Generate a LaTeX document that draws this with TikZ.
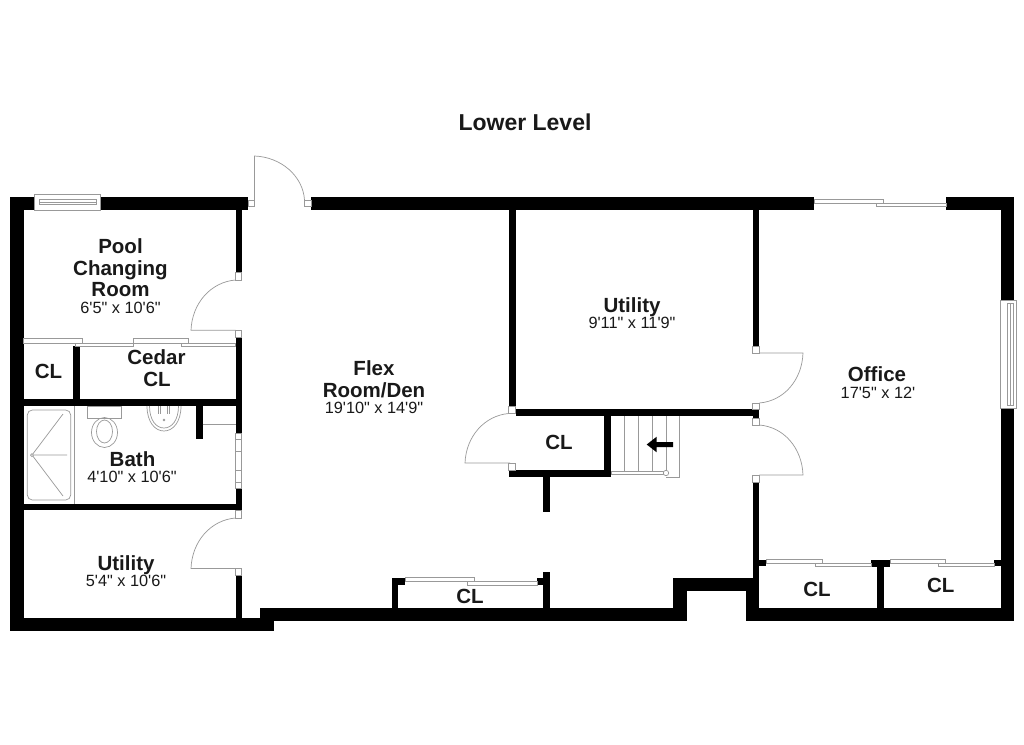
\documentclass[tikz,border=0pt]{standalone}
\usepackage{fontspec}
\setmainfont{Liberation Sans}[Ligatures=TeXOff]
\definecolor{fine}{gray}{0.6}
\tikzset{
  wall/.style={fill=black,draw=none},
  fineline/.style={draw=fine,line width=0.7pt},
  jamb/.style={draw=fine,line width=0.7pt,fill=white},
  panel/.style={draw=fine,line width=0.7pt,fill=white},
  roomname/.style={font=\bfseries\fontsize{20.5}{22}\selectfont,anchor=base,inner sep=0pt,text=black!90},
  roomdim/.style={font=\fontsize{16.3}{18}\selectfont,anchor=base,inner sep=0pt,text=black!90},
  title/.style={font=\bfseries\fontsize{23}{25}\selectfont,anchor=base,inner sep=0pt,text=black!90}
}
\newcommand{\W}[4]{\fill[wall] (#1,#2) rectangle (#3,#4);}
\newcommand{\J}[4]{\draw[jamb] (#1,#2) rectangle (#3,#4);}
\newcommand{\Pn}[4]{\draw[panel] (#1,#2) rectangle (#3,#4);}
\begin{document}
\begin{tikzpicture}[x=1pt,y=-1pt]
\useasboundingbox (0,0) rectangle (1024,744);
\fill[white] (0,0) rectangle (1024,744);
% outer walls
\W{10}{197}{34}{210}
\W{100}{197}{248}{210}
\W{10}{197}{23.5}{631.3}
\W{10}{618.3}{273.7}{631.3}
\W{260}{607.5}{686.6}{620.8}
\W{673.3}{578.3}{686.6}{621}
\W{673.3}{578.3}{759.3}{591.3}
\W{746}{578.3}{759.3}{621}
\W{746}{607.7}{1014}{621}
\W{311}{197}{814}{210}
\W{945.7}{197}{1014}{210}
\W{1000.7}{197}{1014}{300}
\W{1000.7}{408}{1014}{621}
% west rooms, east partition
\W{235.5}{210}{241.5}{272.7}
\W{235.5}{337}{241.5}{433}
\W{235.5}{488}{241.5}{510.3}
\W{235.5}{575}{241.5}{620}
\W{23.5}{399.3}{241.5}{406}
\W{23.5}{503.7}{241.5}{510.3}
\W{73}{345.7}{79.7}{400}
\W{196}{406}{202.7}{439}
% utility and closet
\W{508.7}{210}{515.5}{406.7}
\W{516}{409.3}{759.3}{416.3}
\W{752.7}{210}{759.3}{346}
\W{752.7}{409}{759.3}{418}
\W{752.7}{482}{759.3}{607.7}
\W{508.7}{470}{611}{476.7}
\W{543.3}{476}{550}{512}
\W{604.3}{416}{610.5}{476}
% office closets
\W{759.3}{560}{766}{566.4}
\W{870.7}{560}{890.3}{566.6}
\W{877}{566}{883.7}{608}
\W{994}{560}{1001}{566.4}
% flex closet
\W{391.7}{578.3}{398.3}{608}
\W{391.7}{578.3}{405}{584.7}
\W{543.3}{571.7}{550}{608}
\W{536.7}{578.3}{543.3}{584.7}
% front door
\J{248}{200}{254.5}{206.5}
\J{304.5}{200}{311}{206.5}
\draw[fineline] (254.5,200) -- (254.5,156) .. controls (281,157) and (303,176) .. (304.5,200);
% changing room door
\J{235.5}{272.7}{241.5}{280}
\J{235.5}{330.3}{241.5}{337}
\draw[fineline] (235.5,330.3) -- (191,330.3) .. controls (192,303) and (211,282) .. (235.5,280);
% utility west door
\J{235.5}{510.3}{241.5}{518}
\J{235.5}{568.5}{241.5}{575}
\draw[fineline] (235.5,568.5) -- (191,568.5) .. controls (192,541) and (211,520) .. (235.5,518);
% closet door
\J{508.7}{406.7}{515.5}{413.5}
\J{508.7}{463}{515.5}{470}
\draw[fineline] (510,463) -- (465,463) .. controls (466,436) and (485,415.5) .. (508.7,413.5);
% office doors
\J{752.7}{346}{759.3}{353.5}
\J{752.7}{403}{759.3}{409.3}
\draw[fineline] (759.3,353) -- (803,353) .. controls (802,380) and (784,401) .. (759.3,403);
\J{752.7}{418}{759.3}{425}
\J{752.7}{475}{759.3}{482}
\draw[fineline] (759.3,475) -- (803,475) .. controls (802,448) and (784,427) .. (759.3,425);
% north windows
\draw[panel] (34,194.5) rectangle (100,210);
\draw[panel] (39,199.5) rectangle (96,204);
\draw[fineline] (39,202) -- (96,202);
% east window
\draw[panel] (1000.7,300) rectangle (1016.5,408);
\draw[panel] (1007,303) rectangle (1013,405);
\draw[fineline] (1010,303) -- (1010,405);
% glider
\Pn{814}{199.3}{883}{203.3}
\Pn{876}{203.3}{946}{206.6}
% bifolds
\Pn{23.5}{338.7}{82}{343}
\Pn{75.5}{343}{133}{346.5}
\Pn{133}{338.7}{188}{343}
\Pn{181}{343}{235.5}{346.5}
\Pn{405}{577.7}{474.5}{581.3}
\Pn{467.5}{581.3}{537}{585}
\Pn{766}{559.3}{822}{563}
\Pn{815}{563}{871}{566.5}
\Pn{890.3}{559.3}{945.7}{563}
\Pn{938.7}{563}{994}{566.5}
% bath window
\draw[panel] (235.5,433) rectangle (241.5,488);
\draw[fineline] (235.5,439) -- (241.5,439) (235.5,451) -- (241.5,451) (235.5,470) -- (241.5,470) (235.5,482) -- (241.5,482);
% bath fixtures
\draw[fineline] (74.3,406) -- (74.3,503.7);
\draw[fineline,rounded corners=5pt] (27.3,410) rectangle (70.7,500);
\draw[fineline] (32,455) circle[radius=1.5];
\draw[fineline] (33,453.7) -- (63,414) (33.5,455) -- (67,455) (33,456.3) -- (63,496);
\draw[fineline] (87.7,406) rectangle (121.7,418);
\draw[fineline] (104.5,432.5) ellipse[x radius=13,y radius=15];
\draw[fineline] (104.5,431.5) ellipse[x radius=8,y radius=11.5];
\draw[fineline] (147,406) .. controls (147,422) and (155,431) .. (164,431) .. controls (173,431) and (181,422) .. (181,406);
\draw[fineline] (149.5,406) .. controls (149.5,420) and (156,428) .. (164,428) .. controls (172,428) and (178.5,420) .. (178.5,406);
\draw[fineline] (158,406) -- (158,414) (160,406) -- (160,414) (167,406) -- (167,414) (169,406) -- (169,414);
\draw[fineline] (164,420) circle[radius=0.8];
\draw[fineline] (202.7,424.7) -- (235.5,424.7);
% stairs
\foreach \sx in {624,638,652,666}{\draw[fineline] (\sx,416.3) -- (\sx,471.5);}
\draw[fineline] (679.7,416.3) -- (679.7,477) -- (666,477);
\draw[panel] (611,471.7) rectangle (665,474.5);
\draw[jamb] (666,473) circle[radius=2.7];
\fill[black] (646.7,444.5) -- (656.7,436.7) -- (656.7,442) -- (673,442) -- (673,447) -- (656.7,447) -- (656.7,452.3) -- cycle;
% labels
\node[title] (lower) at (525,130) {Lower Level};
\node[roomname] (pool1) at (120.5,253.5) {Pool};
\node[roomname] (pool2) at (120.5,275) {Changing};
\node[roomname] (pool3) at (120.5,296.5) {Room};
\node[roomdim] (poold) at (120.5,313) {6'5" x 10'6"};
\node[roomname] (cedar1) at (156.5,364.5) {Cedar};
\node[roomname] (cedar2) at (157,386) {CL};
\node[roomname] (cl1) at (48.5,378.3) {CL};
\node[roomname] (bath) at (132.5,466) {Bath};
\node[roomdim] (bathd) at (132,482.7) {4'10" x 10'6"};
\node[roomname] (util1) at (126,570) {Utility};
\node[roomdim] (util1d) at (126,586.7) {5'4" x 10'6"};
\node[roomname] (flex1) at (374,375) {Flex};
\node[roomname] (flex2) at (374,397) {Room/Den};
\node[roomdim] (flexd) at (374,413.5) {19'10" x 14'9"};
\node[roomname] (util2) at (632,312) {Utility};
\node[roomdim] (util2d) at (632,328.5) {9'11" x 11'9"};
\node[roomname] (office) at (877,381) {Office};
\node[roomdim] (officed) at (878,398.3) {17'5" x 12'};
\node[roomname] (cl2) at (559,449) {CL};
\node[roomname] (cl3) at (817,596.7) {CL};
\node[roomname] (cl4) at (940.7,592.7) {CL};
\node[roomname] (cl5) at (470,603.3) {CL};
\end{tikzpicture}
\end{document}
